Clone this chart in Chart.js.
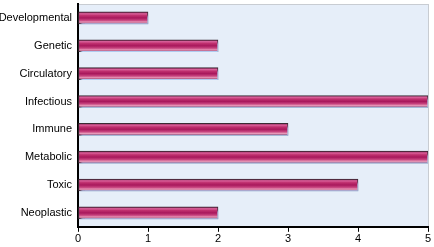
<!DOCTYPE html>
<html>
<head>
<meta charset="utf-8">
<script src="https://cdn.jsdelivr.net/npm/chart.js@4"></script>
<style>
  html, body { margin: 0; padding: 0; background: #fff; }
  #wrap { width: 434px; height: 247px; }
</style>
</head>
<body>
<div id="wrap"><canvas id="myChart" width="434" height="247"></canvas></div>
<script>
var categories = ['Developmental', 'Genetic', 'Circulatory', 'Infectious', 'Immune', 'Metabolic', 'Toxic', 'Neoplastic'];
var counts = [1, 2, 2, 5, 3, 5, 4, 2];
var xTicks = [0, 1, 2, 3, 4, 5];

// light blue panel behind the bars
var panelBg = {
  id: 'panelBg',
  beforeDraw: function (chart) {
    var a = chart.chartArea, c = chart.ctx;
    c.save();
    c.fillStyle = '#e6eef9';
    c.fillRect(a.left, a.top, a.right - a.left, a.bottom - a.top);
    c.strokeStyle = '#c8ccd2';
    c.lineWidth = 1;
    c.beginPath();
    c.moveTo(a.right + 0.5, a.top);
    c.lineTo(a.right + 0.5, a.bottom);
    c.moveTo(a.left, a.top + 0.5);
    c.lineTo(a.right, a.top + 0.5);
    c.stroke();
    c.restore();
  }
};

// soft blue shadow under bars
var barShadow = {
  id: 'barShadow',
  beforeDatasetDraw: function (chart) {
    var c = chart.ctx;
    c.save();
    c.shadowColor = 'rgba(175,203,240,1)';
    c.shadowOffsetX = 2;
    c.shadowOffsetY = 3;
    c.shadowBlur = 2;
  },
  afterDatasetDraw: function (chart) {
    chart.ctx.restore();
  }
};

function barFill(context) {
  var chart = context.chart;
  var ys = chart.scales.y;
  if (!ys || context.dataIndex === undefined) return '#b0206a';
  var y = ys.getPixelForValue(context.dataIndex);
  if (!isFinite(y)) return '#b0206a';
  var h = 6;
  var g = chart.ctx.createLinearGradient(0, y - h, 0, y + h);
  g.addColorStop(0.0, '#7a1446');
  g.addColorStop(0.15, '#d9609a');
  g.addColorStop(0.3, '#c0306f');
  g.addColorStop(0.5, '#a8185c');
  g.addColorStop(0.7, '#c8447f');
  g.addColorStop(0.85, '#e89ab9');
  g.addColorStop(1.0, '#7a1446');
  return g;
}

var ctx = document.getElementById('myChart');
var myChart = new Chart(ctx, {
  type: 'bar',
  data: {
    labels: categories,
    datasets: [{
      data: counts,
      backgroundColor: barFill,
      borderColor: '#3a2a34',
      borderWidth: 1,
      borderSkipped: false,
      barThickness: 12
    }]
  },
  plugins: [panelBg, barShadow],
  options: {
    indexAxis: 'y',
    responsive: false,
    maintainAspectRatio: false,
    animation: false,
    layout: { padding: { top: 4, right: 6, left: 0, bottom: 0 } },
    plugins: {
      legend: { display: false },
      tooltip: { enabled: false }
    },
    scales: {
      x: {
        min: 0,
        max: 5,
        afterBuildTicks: function (axis) {
          axis.ticks = xTicks.map(function (v) { return { value: v }; });
        },
        grid: {
          drawOnChartArea: false,
          drawTicks: true,
          tickLength: 5,
          color: '#000',
          lineWidth: 1
        },
        border: { color: '#000', width: 2 },
        ticks: {
          color: '#000',
          padding: 1,
          font: { family: 'Liberation Sans, Arial, sans-serif', size: 11 }
        }
      },
      y: {
        afterFit: function (scale) {
          scale.width = 78;
          scale.paddingTop = 0;
          scale.paddingBottom = 0;
        },
        grid: { display: false, drawTicks: false },
        border: { color: '#000', width: 2 },
        ticks: {
          color: '#000',
          padding: 6,
          font: { family: 'Liberation Sans, Arial, sans-serif', size: 11 }
        }
      }
    }
  }
});
</script>
</body>
</html>
